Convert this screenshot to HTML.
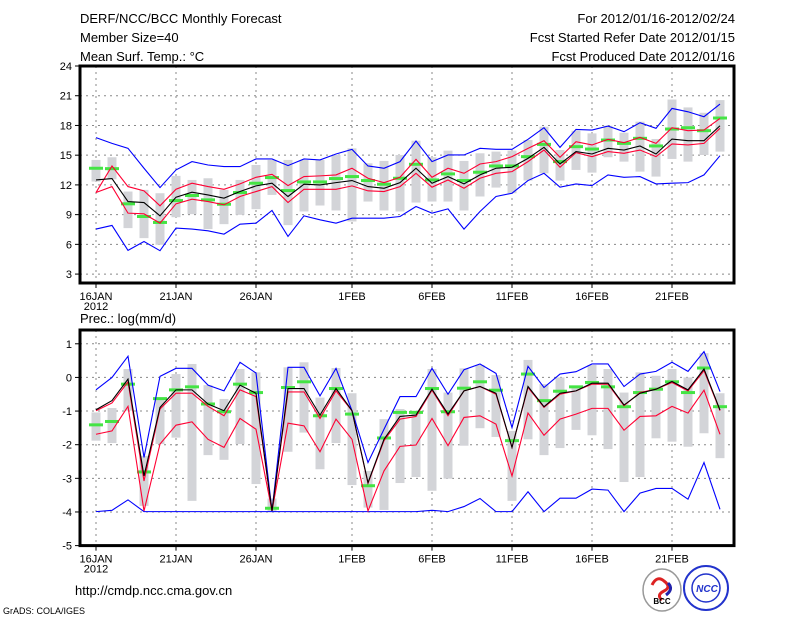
<!DOCTYPE html>
<html><head><meta charset="utf-8"><style>
html,body{margin:0;padding:0;background:#fff;}
svg text{font-family:"Liberation Sans",sans-serif;fill:#000;}
</style></head><body>
<svg id="chart" width="800" height="618" viewBox="0 0 800 618" xmlns="http://www.w3.org/2000/svg">
<text x="80" y="23" font-size="13">DERF/NCC/BCC Monthly Forecast</text>
<text x="80" y="42" font-size="13">Member Size=40</text>
<text x="80" y="61" font-size="13">Mean Surf. Temp.: °C</text>
<text x="735" y="23" font-size="13" text-anchor="end">For 2012/01/16-2012/02/24</text>
<text x="735" y="42" font-size="13" text-anchor="end">Fcst Started Refer Date 2012/01/15</text>
<text x="735" y="61" font-size="13" text-anchor="end">Fcst Produced Date 2012/01/16</text>
<text x="80" y="323" font-size="13">Prec.: log(mm/d)</text>
<text x="75" y="595" font-size="13">http://cmdp.ncc.cma.gov.cn</text>
<text x="3" y="614" font-size="9">GrADS: COLA/IGES</text>
<g>
<ellipse cx="662" cy="590" rx="19" ry="21" fill="#fff" stroke="#999" stroke-width="1.5"/>
<path d="M652 585 q5 -10 12 -4 q8 6 0 10 q-8 4 -2 9" fill="none" stroke="#d22" stroke-width="3"/>
<path d="M668 583 q6 6 -2 12" fill="none" stroke="#22a" stroke-width="3"/>
<text x="662" y="604" font-size="8" text-anchor="middle" font-weight="bold">BCC</text>
</g>
<g>
<circle cx="706" cy="588" r="22" fill="#fff" stroke="#23c" stroke-width="2"/>
<circle cx="706" cy="588" r="14" fill="none" stroke="#23c" stroke-width="1.5"/>
<text x="707" y="592" font-size="10" fill="#23c" style="fill:#23c" text-anchor="middle" font-style="italic" font-weight="bold">NCC</text>
</g>
<g id="top"></g><g id="bot"></g>
</svg>
<script>
const days = ['16JAN','21JAN','26JAN','1FEB','6FEB','11FEB','16FEB','21FEB'];
const dayIdx = [0,5,10,16,21,26,31,36];
const tTicks = [3,6,9,12,15,18,21,24];
const pTicks = [1,0,-1,-2,-3,-4,-5];
const tMean = [12.5,12.64,10.32,10.22,8.88,10.76,11.26,10.99,10.66,11.33,11.9,12.17,10.83,12.07,12.0,12.23,12.44,11.83,11.66,12.23,13.68,12.17,12.84,12.1,13.01,13.68,13.78,14.68,15.79,14.11,15.36,15.12,15.69,15.52,15.93,15.12,16.63,16.46,16.46,17.97];
const tRedHi = [11.23,13.91,11.83,11.4,9.89,11.56,12.17,11.83,11.56,12.1,12.77,13.07,11.93,12.84,12.91,13.01,13.68,12.67,12.23,12.77,14.58,12.77,13.68,13.17,14.11,14.35,14.85,15.69,16.46,14.79,16.36,16.03,16.6,16.26,16.8,16.19,17.77,17.47,17.54,18.71];
const tRedLo = [11.23,11.83,9.15,9.08,8.14,10.09,10.56,10.32,9.99,10.83,11.33,11.83,10.22,11.56,11.56,11.56,11.9,11.4,11.33,11.83,13.17,11.77,12.5,11.66,12.67,13.17,13.34,14.35,15.52,13.78,15.26,14.85,15.36,15.19,15.52,14.85,16.13,16.03,16.19,17.71];
const tBlueHi = [16.77,16.19,15.69,13.68,11.73,13.51,14.35,14.01,13.85,13.85,14.62,14.62,13.95,14.62,14.52,15.12,15.59,13.91,13.68,14.35,16.43,14.35,15.02,15.02,15.69,15.59,15.59,16.6,17.77,15.79,17.6,17.54,17.94,17.37,18.28,17.71,19.72,19.38,18.88,20.16];
const tBlueLo = [7.54,7.91,5.39,6.29,5.36,7.64,7.54,7.37,7.03,8.04,8.14,9.42,6.8,8.88,8.48,8.14,8.64,8.64,8.64,8.81,9.82,9.15,9.58,7.54,9.32,10.83,11.16,12.44,13.17,11.77,12.1,11.93,13.01,12.77,12.84,12.1,12.17,12.23,13.01,14.95];
const tGreen = [13.68,13.64,10.09,8.81,8.21,10.42,10.93,10.49,10.05,11.23,12.17,12.74,11.43,12.3,12.3,12.64,12.84,12.44,12.07,12.67,14.08,12.5,13.11,12.44,13.28,13.91,13.91,14.85,16.09,14.35,15.86,15.62,16.53,16.19,16.7,15.93,17.64,17.77,17.47,18.75];
const tBarHi = [14.52,14.79,11.33,11.5,11.16,12.91,12.5,12.67,11.5,12.5,14.01,14.52,14.52,14.52,14.52,15.02,15.69,14.18,14.42,15.02,16.46,14.79,15.46,14.42,15.19,15.36,15.46,16.53,17.87,15.52,17.47,17.2,17.97,17.27,18.38,16.63,20.62,19.82,19.28,20.56];
const tBarLo = [12.34,12.57,7.64,6.63,5.96,8.74,9.05,7.54,8.04,8.98,9.55,10.99,7.94,9.32,9.92,9.42,8.31,10.32,9.42,9.32,10.22,10.32,10.32,9.42,10.83,11.73,11.16,12.44,13.17,12.44,13.51,13.24,14.79,14.35,13.34,12.84,14.62,14.35,15.02,15.36];
const pMean = [-0.96,-0.69,-0.05,-2.93,-0.89,-0.37,-0.37,-0.79,-0.99,-0.23,-0.47,-3.97,-0.33,-0.33,-1.12,-0.33,-0.99,-3.13,-1.84,-1.16,-1.12,-0.35,-1.09,-0.4,-0.27,-0.47,-2.08,-0.27,-0.87,-0.47,-0.4,-0.17,-0.17,-0.82,-0.47,-0.35,-0.12,-0.37,0.25,-0.97];
const pRedHi = [-0.99,-0.76,-0.13,-3.08,-0.94,-0.47,-0.47,-0.86,-1.14,-0.37,-0.57,-3.97,-0.43,-0.43,-1.22,-0.4,-0.99,-3.15,-1.88,-1.24,-1.16,-0.38,-1.14,-0.4,-0.27,-0.5,-2.08,-0.3,-0.89,-0.5,-0.4,-0.2,-0.2,-0.84,-0.45,-0.35,-0.15,-0.4,0.2,-0.99];
const pRedLo = [-1.69,-1.59,-0.86,-3.97,-1.98,-1.42,-1.32,-1.84,-2.08,-1.22,-1.54,-3.97,-1.36,-1.44,-2.21,-1.24,-1.84,-3.97,-2.78,-2.05,-2.01,-1.22,-2.03,-1.19,-1.14,-1.39,-2.93,-1.06,-1.72,-1.24,-1.09,-0.92,-0.92,-1.57,-1.16,-1.14,-0.86,-1.06,-0.38,-1.69];
const pBlueHi = [-0.37,0.0,0.63,-2.38,0.03,0.27,0.27,-0.23,-0.4,0.45,0.13,-3.97,0.3,0.3,-0.55,0.27,-0.99,-2.53,-1.54,-0.57,-0.57,0.27,-0.5,0.23,0.4,0.12,-1.49,0.33,-0.3,0.1,0.17,0.4,0.4,-0.27,0.1,0.18,0.45,0.18,0.77,-0.42];
const pBlueLo = [-3.99,-3.95,-3.64,-3.99,-3.99,-3.99,-3.99,-3.99,-3.99,-3.99,-3.99,-3.99,-3.99,-3.99,-3.99,-3.99,-3.99,-3.99,-3.99,-3.99,-3.99,-3.95,-3.99,-3.84,-3.6,-3.99,-3.99,-3.4,-3.99,-3.59,-3.59,-3.32,-3.35,-3.99,-3.44,-3.3,-3.3,-3.62,-2.53,-3.92];
const pGreen = [-1.41,-1.31,-0.2,-2.81,-0.63,-0.37,-0.28,-0.79,-1.02,-0.2,-0.45,-3.89,-0.3,-0.13,-1.14,-0.33,-1.09,-3.22,-1.8,-1.04,-1.04,-0.33,-1.02,-0.32,-0.13,-0.38,-1.88,0.1,-0.69,-0.41,-0.28,-0.15,-0.28,-0.87,-0.45,-0.35,-0.13,-0.45,0.28,-0.87];
const pBarHi = [-1.04,-0.91,0.25,-2.33,-0.64,0.1,0.4,-0.23,-0.64,0.25,0.15,-3.6,0.3,0.45,-0.6,0.28,-0.47,-2.78,-1.24,-0.94,-0.99,0.25,-0.45,0.27,0.37,0.07,-1.59,0.52,-0.2,0.0,-0.25,0.37,0.25,-0.45,0.15,0.05,0.25,0.0,0.72,-0.47];
const pBarLo = [-1.88,-1.95,-0.99,-3.82,-1.98,-1.79,-3.67,-2.31,-2.45,-1.98,-3.17,-4.0,-2.21,-1.64,-2.73,-1.95,-3.2,-3.87,-3.94,-3.14,-2.96,-3.37,-3.01,-2.03,-1.51,-1.77,-3.67,-1.84,-2.31,-2.1,-1.56,-1.72,-2.13,-3.11,-2.96,-1.81,-1.91,-2.06,-1.66,-2.4];

const NS='http://www.w3.org/2000/svg';
const X0=80,X1=734;
function xS(i){return 96+16*i;}
function mk(parent,tag,at){const e=document.createElementNS(NS,tag);for(const k in at)e.setAttribute(k,at[k]);parent.appendChild(e);return e;}

function panel(g,top,bottom,vmin,vmax,ticks,S,prefix){
  const yS=v=>bottom-(v-vmin)/(vmax-vmin)*(bottom-top);
  // grid
  ticks.forEach(t=>{
    if(t>vmin&&t<vmax){const l=mk(g,'line',{x1:X0,x2:X1,y1:yS(t),y2:yS(t),stroke:'#888','stroke-dasharray':'2,4'});
    
    }
    const tx=mk(g,'text',{x:72,y:yS(t)+4,'font-size':11,'text-anchor':'end'});tx.textContent=t;
    
    
    mk(g,'line',{x1:X0-5,x2:X0,y1:yS(t),y2:yS(t),stroke:'#000'});
  });
  dayIdx.forEach((d,k)=>{
    const x=xS(d);
    const l=mk(g,'line',{x1:x,x2:x,y1:top,y2:bottom,stroke:'#888','stroke-dasharray':'2,4'});
    
    
    mk(g,'line',{x1:x,x2:x,y1:bottom,y2:bottom+5,stroke:'#000'});
    const tx=mk(g,'text',{x:x,y:bottom+17,'font-size':11,'text-anchor':'middle'});tx.textContent=days[k];
    
    
  });
  const yr=mk(g,'text',{x:96,y:bottom+27,'font-size':11,'text-anchor':'middle'});yr.textContent='2012';
  
  
  // bars
  S.barHi.forEach((h,i)=>{
    const lo=S.barLo[i];
    const r=mk(g,'rect',{x:xS(i)-4.5,y:yS(h),width:9,height:yS(lo)-yS(h),fill:'#d3d4d8'});
    
    
  });
  S.green.forEach((v,i)=>{
    const r=mk(g,'rect',{x:xS(i)-7,y:yS(v)-1.5,width:14,height:3,fill:'#44e444'});
    
    
  });
  const lines=[[S.blueHi,'#0000ff','blue-max'],[S.blueLo,'#0000ff','blue-min'],[S.redHi,'#ff0033','red-upper'],[S.redLo,'#ff0033','red-lower'],[S.mean,'#000','ensemble-mean']];
  lines.forEach(([arr,c,n])=>{
    const p=mk(g,'polyline',{points:arr.map((v,i)=>xS(i)+','+yS(v)).join(' '),fill:'none',stroke:c,'stroke-width':1.1});
    
    
  });
  const b=mk(g,'rect',{x:X0,y:top,width:X1-X0,height:bottom-top,fill:'none',stroke:'#000','stroke-width':3});
  
  
}
const gt=document.getElementById('top');


panel(gt,66,283,2.1,24,tTicks,{mean:tMean,redHi:tRedHi,redLo:tRedLo,blueHi:tBlueHi,blueLo:tBlueLo,green:tGreen,barHi:tBarHi,barLo:tBarLo},'temp');
const gb=document.getElementById('bot');


panel(gb,330,545.6,-5,1.41,pTicks,{mean:pMean,redHi:pRedHi,redLo:pRedLo,blueHi:pBlueHi,blueLo:pBlueLo,green:pGreen,barHi:pBarHi,barLo:pBarLo},'prec');
</script>
</body></html>
